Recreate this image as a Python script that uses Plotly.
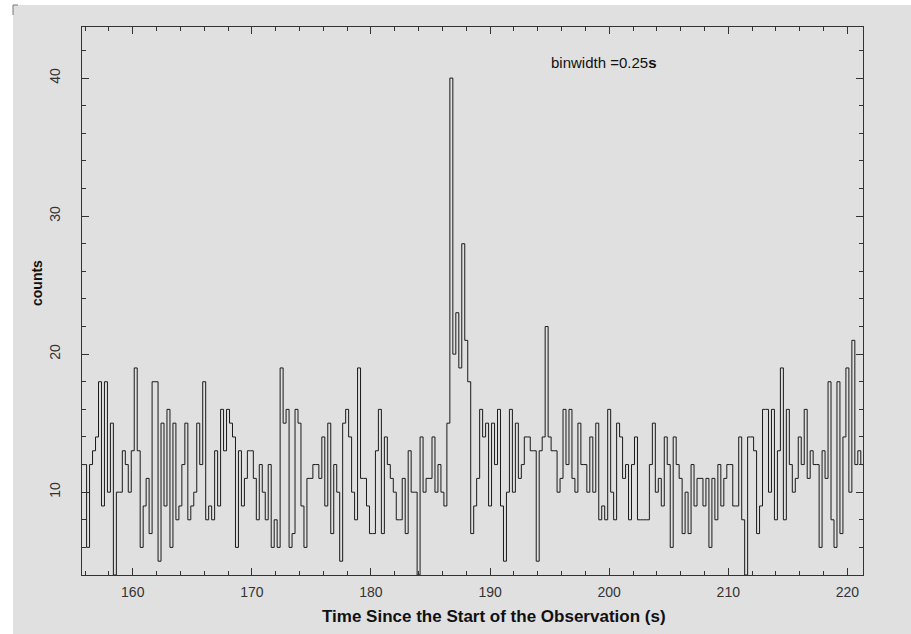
import numpy as np
import plotly.graph_objects as go

# ---- data -------------------------------------------------------------
bin_width = 0.25            # s
t_first_edge = 155.625      # left edge of first (partly visible) bin, s
counts = [
    12, 12, 6, 12, 13, 14, 18, 9, 18, 10, 15, 4, 10, 10, 13, 12, 10, 13, 19, 13,
    6, 9, 11, 7, 18, 18, 5, 15, 9, 16, 6, 15, 8, 9, 12, 15, 8, 9, 10, 15,
    12, 18, 8, 9, 8, 13, 9, 16, 13, 16, 15, 14, 6, 13, 9, 11, 13, 13, 11, 8,
    12, 10, 8, 12, 6, 8, 6, 19, 15, 16, 6, 7, 16, 15, 9, 6, 11, 11, 12, 12,
    11, 14, 9, 15, 7, 12, 10, 5, 15, 16, 14, 10, 8, 19, 11, 11, 9, 7, 7, 13,
    16, 7, 14, 12, 11, 10, 8, 8, 11, 7, 13, 10, 10, 4, 14, 10, 11, 11, 14, 10,
    12, 10, 9, 15, 40, 20, 23, 19, 28, 21, 18, 7, 9, 11, 16, 14, 15, 9, 15, 12,
    16, 9, 5, 10, 16, 10, 15, 11, 12, 14, 14, 13, 13, 5, 13, 14, 22, 14, 13, 13,
    10, 11, 16, 12, 16, 11, 10, 15, 12, 12, 10, 14, 10, 15, 8, 9, 8, 16, 10, 8,
    15, 14, 11, 12, 8, 12, 14, 8, 8, 8, 8, 12, 15, 10, 11, 9, 14, 12, 6, 14,
    12, 11, 7, 10, 7, 12, 9, 11, 11, 9, 11, 6, 11, 8, 12, 9, 11, 12, 12, 9,
    9, 14, 8, 4, 14, 14, 13, 7, 9, 16, 16, 10, 16, 8, 13, 19, 8, 16, 12, 10,
    11, 14, 12, 16, 11, 13, 12, 12, 6, 13, 11, 18, 8, 6, 18, 7, 14, 19, 10, 21,
    12, 13, 12,
]
x_range = [155.74, 221.31]
y_range = [4, 43.7]
x_ticks = [160, 170, 180, 190, 200, 210, 220]
y_ticks = [10, 20, 30, 40]
x_title = "Time Since the Start of the Observation (s)"
y_title = "counts"
note_text = "binwidth =0.25<b>s</b>"

# ---- build step curve -------------------------------------------------
edges = t_first_edge + bin_width * np.arange(len(counts) + 1)
xs = list(edges)
ys = list(counts) + [counts[-1]]

GREY = "#e0e0e0"
INK = "#1a1a1a"
FONT = "Liberation Sans, Arial, sans-serif"

fig = go.Figure()
fig.add_trace(go.Scatter(
    x=xs, y=ys, mode="lines", line=dict(shape="hv", color=INK, width=1),
    hoverinfo="skip", showlegend=False,
))

W, H = 911, 634
L, R, T, B = 82, 48, 27, 59
pw, ph = W - L - R, H - T - B

def px2paper_x(px):
    return (px - L) / pw

def px2paper_y(py):
    return (H - B - py) / ph

# white borders at left and top of the grey canvas
fig.add_shape(type="rect", xref="paper", yref="paper",
              x0=px2paper_x(0), x1=px2paper_x(13), y0=px2paper_y(H), y1=px2paper_y(0),
              fillcolor="white", line=dict(width=0), layer="below")
fig.add_shape(type="rect", xref="paper", yref="paper",
              x0=px2paper_x(0), x1=px2paper_x(W), y0=px2paper_y(5), y1=px2paper_y(0),
              fillcolor="white", line=dict(width=0), layer="below")
# small corner mark
fig.add_shape(type="path", xref="paper", yref="paper",
              path=f"M {px2paper_x(13)} {px2paper_y(15)} L {px2paper_x(13)} {px2paper_y(5)} L {px2paper_x(18)} {px2paper_y(5)}",
              line=dict(color="#777777", width=1))

axis_common = dict(
    showgrid=False, zeroline=False, showline=True, linecolor="#333333", linewidth=1,
    mirror="allticks", ticks="inside", tickcolor="#333333", tickwidth=1, ticklen=7,
    tickfont=dict(family=FONT, size=14, color="#333333"),
)

fig.update_xaxes(
    range=x_range, tickvals=x_ticks, ticklabelstandoff=4, **axis_common,
    minor=dict(ticks="inside", ticklen=4, dtick=2, tickcolor="#333333", showgrid=False),
)
fig.update_yaxes(
    range=y_range, tickvals=y_ticks, tickangle=-90, ticklabelstandoff=15, **axis_common,
    minor=dict(ticks="inside", ticklen=4, dtick=2, tickcolor="#333333", showgrid=False),
)

# axis titles (placed as in the reference, slightly off-centre)
fig.add_annotation(x=px2paper_x(494), y=px2paper_y(616), xref="paper", yref="paper",
                   text=f"<b>{x_title}</b>", showarrow=False, xanchor="center", yanchor="middle",
                   font=dict(family=FONT, size=17, color="#111111"))
fig.add_annotation(x=px2paper_x(37), y=px2paper_y(283), xref="paper", yref="paper",
                   text=f"<b>{y_title}</b>", showarrow=False, textangle=-90,
                   xanchor="center", yanchor="middle",
                   font=dict(family=FONT, size=14, color="#111111"))

fig.add_annotation(x=194.95, y=41.1, xref="x", yref="y", text=note_text, showarrow=False,
                   xanchor="left", yanchor="middle",
                   font=dict(family=FONT, size=15, color="#111111"))

fig.update_layout(
    width=W, height=H, margin=dict(l=L, r=R, t=T, b=B),
    paper_bgcolor=GREY, plot_bgcolor=GREY,
)

fig.write_html("out.html")
